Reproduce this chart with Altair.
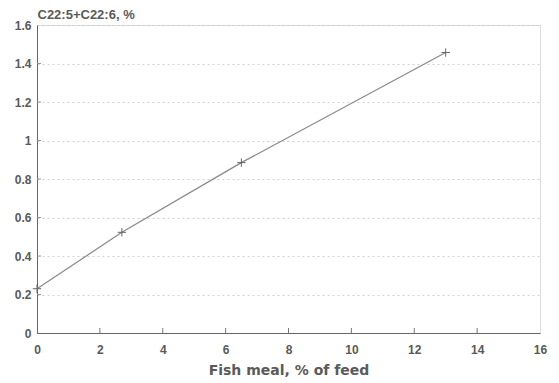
import altair as alt
import pandas as pd

fish_meal = [0.0, 2.7, 6.5, 13.0]
c22 = [0.23, 0.523, 0.885, 1.457]
x_ticks = [2, 4, 6, 8, 10, 12, 14]
y_ticks = [0.2, 0.4, 0.6, 0.8, 1.0, 1.2, 1.4]
x_labels = [0, 2, 4, 6, 8, 10, 12, 14, 16]
y_labels = [0, 0.2, 0.4, 0.6, 0.8, 1.0, 1.2, 1.4, 1.6]

df = pd.DataFrame({"x": fish_meal, "y": c22})
dx = pd.DataFrame({"x": x_ticks})
dy = pd.DataFrame({"y": y_ticks})

W, H = 503, 308
FONT = "Liberation Sans"
GREY = "#5a5a5a"

xs = alt.Scale(domain=[0, 16], nice=False)
ys = alt.Scale(domain=[0, 1.6], nice=False)

xaxis = alt.Axis(values=x_labels, tickSize=0, grid=False,
                 labelOverlap=False, labelFlush=False, labelBound=False,
                 labelPadding=11, labelFontSize=12, labelFont=FONT, labelFontWeight="bold",
                 labelColor=GREY, domainColor="#666", title="Fish meal, % of feed",
                 titleFont="DejaVu Sans", titleFontSize=14, titleFontWeight="bold",
                 titleColor=GREY, titlePadding=8)
yaxis = alt.Axis(values=y_labels, tickSize=0, format=".1~f",
                 labelOverlap=False, labelFlush=False, labelBound=False,
                 grid=True, gridDash=[2, 3], gridColor="#c4c4c4", gridWidth=0.8,
                 labelPadding=6, labelFontSize=12, labelFont=FONT, labelFontWeight="bold",
                 labelColor=GREY, domainColor="#666", title="C22:5+C22:6, %",
                 titleAngle=0, titleAlign="left", titleBaseline="alphabetic",
                 titleX=0, titleY=-7, titleFont=FONT, titleFontSize=13,
                 titleFontWeight="bold", titleColor=GREY)

line = alt.Chart(df).mark_line(color="#888888", strokeWidth=1.2).encode(
    x=alt.X("x:Q", scale=xs, axis=xaxis),
    y=alt.Y("y:Q", scale=ys, axis=yaxis),
)
pts = alt.Chart(df).mark_point(shape="M-1,0L1,0M0,-1L0,1", filled=False, size=70,
                               color="#666666", strokeWidth=1, opacity=1).encode(
    x=alt.X("x:Q", scale=xs, axis=xaxis), y=alt.Y("y:Q", scale=ys, axis=yaxis))

xt = alt.Chart(dx).mark_rule(color="#777777", strokeWidth=1).encode(
    x=alt.X("x:Q", scale=xs, axis=xaxis), y=alt.value(H), y2=alt.value(H - 5))
yt = alt.Chart(dy).mark_rule(color="#999999", strokeWidth=1).encode(
    y=alt.Y("y:Q", scale=ys, axis=yaxis), x=alt.value(0), x2=alt.value(4))

chart = alt.layer(line, pts, xt, yt).properties(
    width=W, height=H,
    autosize=alt.AutoSizeParams(type="none"),
    padding={"left": 29, "top": 17, "right": 10, "bottom": 45},
).configure_view(stroke="#888888", strokeWidth=1).configure(background="white")

chart.save("out.html", embed_options={"renderer": "svg", "actions": False})
